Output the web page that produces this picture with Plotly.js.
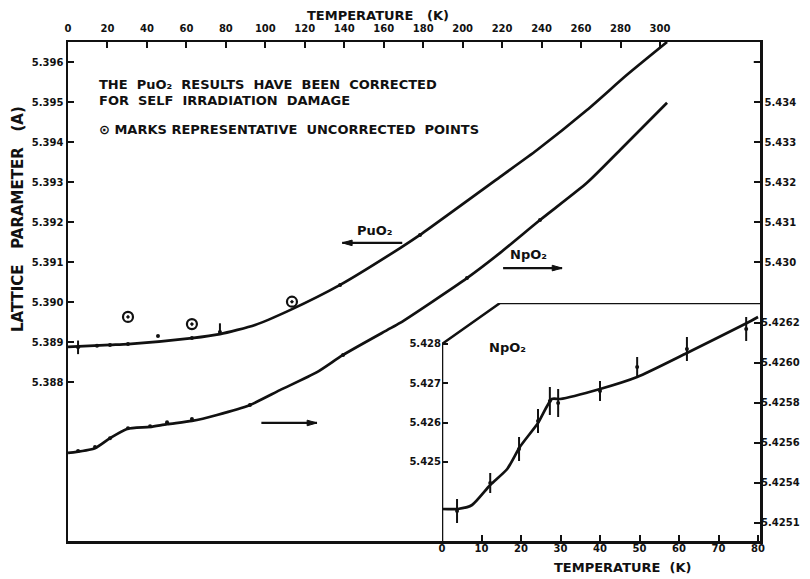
<!DOCTYPE html>
<html>
<head>
<meta charset="utf-8">
<script src="https://cdn.plot.ly/plotly-3.0.1.min.js"></script>
<style>
  html, body { margin: 0; padding: 0; background: #fff; }
  #chart { width: 810px; height: 579px; }
</style>
</head>
<body>
<div id="chart"></div>
<script>
// PuO2 lattice parameter (left axis) versus temperature (top axis), smoothed curve
const puTemp = [0, 21.3, 30.4, 62.8, 77, 94.8, 112.5, 137.9, 168.3, 178.4, 219, 237.7, 263, 283.3, 303.6];
const puLattice = [5.38888, 5.38893, 5.38895, 5.3891, 5.3892, 5.38943, 5.3898, 5.39043, 5.39135, 5.39168, 5.39313, 5.3938, 5.3948, 5.39568, 5.3965];

// PuO2 measured (corrected) points
const puPtTemp = [5.1, 14.7, 21.3, 30.4, 45.6, 62.8, 77, 137.9, 178.4];
const puPtLattice = [5.38887, 5.38891, 5.38893, 5.38895, 5.38915, 5.3891, 5.38925, 5.39043, 5.39168];
const puPtErrUp = [0.00017, 0, 0, 0, 0, 0, 0.00022, 0, 0];
const puPtErrDown = [0.00017, 0, 0, 0, 0, 0, 0, 0, 0];

// PuO2 representative uncorrected points
const puRawTemp = [30.4, 62.8, 113.5];
const puRawLattice = [5.38963, 5.38945, 5.39001];

// NpO2 lattice parameter (right axis) versus temperature (top axis)
const npTemp = [0, 13.7, 21.3, 29.9, 41.6, 50.2, 62.8, 75.5, 92.2, 107.4, 126.2, 139.4, 161.7, 168.3, 202.2, 219, 239.2, 263, 279.8, 303.6];
const npLattice = [5.42523, 5.42535, 5.4256, 5.42583, 5.42588, 5.42595, 5.42603, 5.42618, 5.42643, 5.4268, 5.42725, 5.42768, 5.4283, 5.42848, 5.4296, 5.43023, 5.43105, 5.43198, 5.4328, 5.43398];

// NpO2 measured points on the main scale
const npPtTemp = [5.1, 13.7, 21.3, 30.4, 41.6, 50.2, 62.8, 92.2, 139.4, 202.2, 239.2];
const npPtLattice = [5.42528, 5.42538, 5.4256, 5.42585, 5.4259, 5.426, 5.42608, 5.42643, 5.42768, 5.4296, 5.43105];

// Low-temperature NpO2 detail (inset, 0-80 K)
const insetTemp = [0, 4, 7.6, 12.2, 16.5, 19.7, 24.3, 27.8, 29.9, 40, 49.4, 62, 77.2, 80];
const insetLattice = [5.42527, 5.42527, 5.42529, 5.42539, 5.42547, 5.42558, 5.4257, 5.42582, 5.42582, 5.42587, 5.42593, 5.42605, 5.4262, 5.42623];

const insetPtTemp = [3.8, 12.2, 19.5, 24.3, 27.3, 29.4, 40, 49.4, 62, 77];
const insetPtLattice = [5.42526, 5.4254, 5.42557, 5.42571, 5.42581, 5.4258, 5.42586, 5.42598, 5.42607, 5.42617];
const insetPtErr = [0.00006, 0.00005, 0.00006, 0.00006, 0.00007, 0.00007, 0.00005, 0.00005, 0.00006, 0.00006];

// Tick definitions
const mainTempTicks = [0, 20, 40, 60, 80, 100, 120, 140, 160, 180, 200, 220, 240, 260, 280, 300];
const puTicks = [5.388, 5.389, 5.390, 5.391, 5.392, 5.393, 5.394, 5.395, 5.396];
const puTickText = ['5.388', '5.389', '5.390', '5.391', '5.392', '5.393', '5.394', '5.395', '5.396'];
const npTicks = [5.430, 5.431, 5.432, 5.433, 5.434];
const npTickText = ['5.430', '5.431', '5.432', '5.433', '5.434'];
const npTopTick = 5.435;
const insetTempTicks = [0, 10, 20, 30, 40, 50, 60, 70, 80];
const insetLeftTicks = [5.425, 5.426, 5.427, 5.428];
const insetLeftText = ['5.425', '5.426', '5.427', '5.428'];
const insetRightTicks = [5.4252, 5.4254, 5.4256, 5.4258, 5.4260, 5.4262];
const insetRightText = ['5.4251', '5.4254', '5.4256', '5.4258', '5.4260', '5.4262'];

const INK = '#111';
const FONT = 'DejaVu Sans';
const tickFont = { family: FONT, size: 10, color: INK, weight: 'bold' };
const textFont = { family: FONT, size: 13, color: INK, weight: 'bold' };

const lineStyle = { color: INK, width: 2.7, shape: 'spline', smoothing: 0.6 };
const dotStyle = { color: INK, size: 4 };

const traces = [
  { x: puTemp, y: puLattice, xaxis: 'x', yaxis: 'y', mode: 'lines', line: lineStyle, hoverinfo: 'skip' },
  { x: puPtTemp, y: puPtLattice, xaxis: 'x', yaxis: 'y', mode: 'markers', marker: dotStyle,
    error_y: { type: 'data', symmetric: false, array: puPtErrUp, arrayminus: puPtErrDown, color: INK, thickness: 2, width: 0 } },
  { x: puRawTemp, y: puRawLattice, xaxis: 'x', yaxis: 'y', mode: 'markers',
    marker: { symbol: 'circle-open-dot', size: 10, color: INK, line: { width: 2.2, color: INK } } },
  { x: npTemp, y: npLattice, xaxis: 'x', yaxis: 'y2', mode: 'lines', line: lineStyle, hoverinfo: 'skip' },
  { x: npPtTemp, y: npPtLattice, xaxis: 'x', yaxis: 'y2', mode: 'markers', marker: dotStyle },
  { x: insetTemp, y: insetLattice, xaxis: 'x2', yaxis: 'y4', mode: 'lines', line: lineStyle, hoverinfo: 'skip' },
  { x: insetPtTemp, y: insetPtLattice, xaxis: 'x2', yaxis: 'y4', mode: 'markers', marker: dotStyle,
    error_y: { type: 'data', array: insetPtErr, color: INK, thickness: 2, width: 0 } }
];

const axisBase = {
  showgrid: false, zeroline: false, ticks: 'inside', ticklen: 6, tickwidth: 2,
  tickcolor: INK, linecolor: INK, linewidth: 2.5, tickfont: tickFont, fixedrange: true
};

// arrow helper: a line plus a small filled head, in the given axis coordinates
function arrow(xref, yref, x0, x1, y, dx, dy) {
  const dir = Math.sign(x1 - x0);
  return [
    { type: 'line', xref: xref, yref: yref, x0: x0, x1: x1, y0: y, y1: y, line: { color: INK, width: 2.2 } },
    { type: 'path', xref: xref, yref: yref,
      path: 'M' + x1 + ',' + y + ' L' + (x1 - dir * dx) + ',' + (y + dy) + ' L' + (x1 - dir * dx) + ',' + (y - dy) + ' Z',
      fillcolor: INK, line: { color: INK, width: 1 } }
  ];
}

const shapes = [
  // inset frame: left edge, chamfered corner and top edge
  { type: 'path', xref: 'x2', yref: 'y3',
    path: 'M0,5.42299 L0,5.428 L14.7,5.42904 L80.5,5.42904',
    line: { color: INK, width: 2.5 } },
  // unlabelled top tick of the NpO2 scale
  { type: 'line', xref: 'paper', yref: 'y2', x0: 0.991, x1: 1, y0: npTopTick, y1: npTopTick, line: { color: INK, width: 2 } }
]
  .concat(arrow('x', 'y', 169.4, 139, 5.39148, 5, 0.00007))      // towards the PuO2 (left) scale
  .concat(arrow('x', 'y2', 220.5, 250.4, 5.42985, 5, 0.00007))   // towards the NpO2 (right) scale
  .concat(arrow('x', 'y2', 98, 126.2, 5.42598, 5, 0.00007));

const layout = {
  width: 810, height: 579,
  margin: { l: 68, r: 50, t: 42, b: 38 },
  paper_bgcolor: '#fff', plot_bgcolor: '#fff',
  showlegend: false,
  xaxis: Object.assign({}, axisBase, {
    domain: [0, 1], anchor: 'y', side: 'top', range: [0, 350.7],
    tickmode: 'array', tickvals: mainTempTicks, showline: true, mirror: true, ticklabelstandoff: 4
  }),
  yaxis: Object.assign({}, axisBase, {
    domain: [0, 1], anchor: 'x', range: [5.38403, 5.3965],
    tickmode: 'array', tickvals: puTicks, ticktext: puTickText, showline: true
  }),
  yaxis2: Object.assign({}, axisBase, {
    overlaying: 'y', side: 'right', anchor: 'x', range: [5.42303, 5.4355],
    tickmode: 'array', tickvals: npTicks, ticktext: npTickText, showline: true
  }),
  xaxis2: Object.assign({}, axisBase, {
    domain: [0.5405, 1], anchor: 'y3', range: [0, 80.5],
    tickmode: 'array', tickvals: insetTempTicks, showline: false
  }),
  yaxis3: Object.assign({}, axisBase, {
    domain: [0, 0.477], anchor: 'x2', range: [5.42299, 5.42904],
    tickmode: 'array', tickvals: insetLeftTicks, ticktext: insetLeftText, showline: false
  }),
  yaxis4: Object.assign({}, axisBase, {
    overlaying: 'y3', side: 'right', anchor: 'x2', range: [5.42511, 5.4263],
    tickmode: 'array', tickvals: insetRightTicks, ticktext: insetRightText, showline: false
  }),
  shapes: shapes,
  annotations: [
    { xref: 'paper', yref: 'paper', x: 0.448, y: 1.054, text: 'TEMPERATURE   (K)', showarrow: false, font: textFont, xanchor: 'center', yanchor: 'middle' },
    { xref: 'paper', yref: 'paper', x: -0.0723, y: 0.645, text: 'LATTICE   PARAMETER   (A)', textangle: -90, showarrow: false,
      font: Object.assign({}, textFont, { size: 15 }), xanchor: 'center', yanchor: 'middle' },
    { xref: 'paper', yref: 'paper', x: 0.0419, y: 0.914, text: 'THE  PuO₂  RESULTS  HAVE  BEEN  CORRECTED', showarrow: false, font: textFont, xanchor: 'left', yanchor: 'middle' },
    { xref: 'paper', yref: 'paper', x: 0.0419, y: 0.882, text: 'FOR  SELF  IRRADIATION  DAMAGE', showarrow: false, font: textFont, xanchor: 'left', yanchor: 'middle' },
    { xref: 'paper', yref: 'paper', x: 0.0419, y: 0.824, text: '⊙ MARKS REPRESENTATIVE  UNCORRECTED  POINTS', showarrow: false, font: textFont, xanchor: 'left', yanchor: 'middle' },
    { xref: 'x', yref: 'y', x: 155.6, y: 5.3918, text: 'PuO₂', showarrow: false, font: textFont, xanchor: 'center', yanchor: 'middle' },
    { xref: 'x', yref: 'y2', x: 233.5, y: 5.43018, text: 'NpO₂', showarrow: false, font: textFont, xanchor: 'center', yanchor: 'middle' },
    { xref: 'x2', yref: 'y3', x: 16.7, y: 5.42791, text: 'NpO₂', showarrow: false, font: textFont, xanchor: 'center', yanchor: 'middle' },
    { xref: 'paper', yref: 'paper', x: 0.802, y: -0.054, text: 'TEMPERATURE  (K)', showarrow: false, font: textFont, xanchor: 'center', yanchor: 'middle' }
  ]
};

Plotly.newPlot('chart', traces, layout, { displayModeBar: false, staticPlot: true });
</script>
</body>
</html>
